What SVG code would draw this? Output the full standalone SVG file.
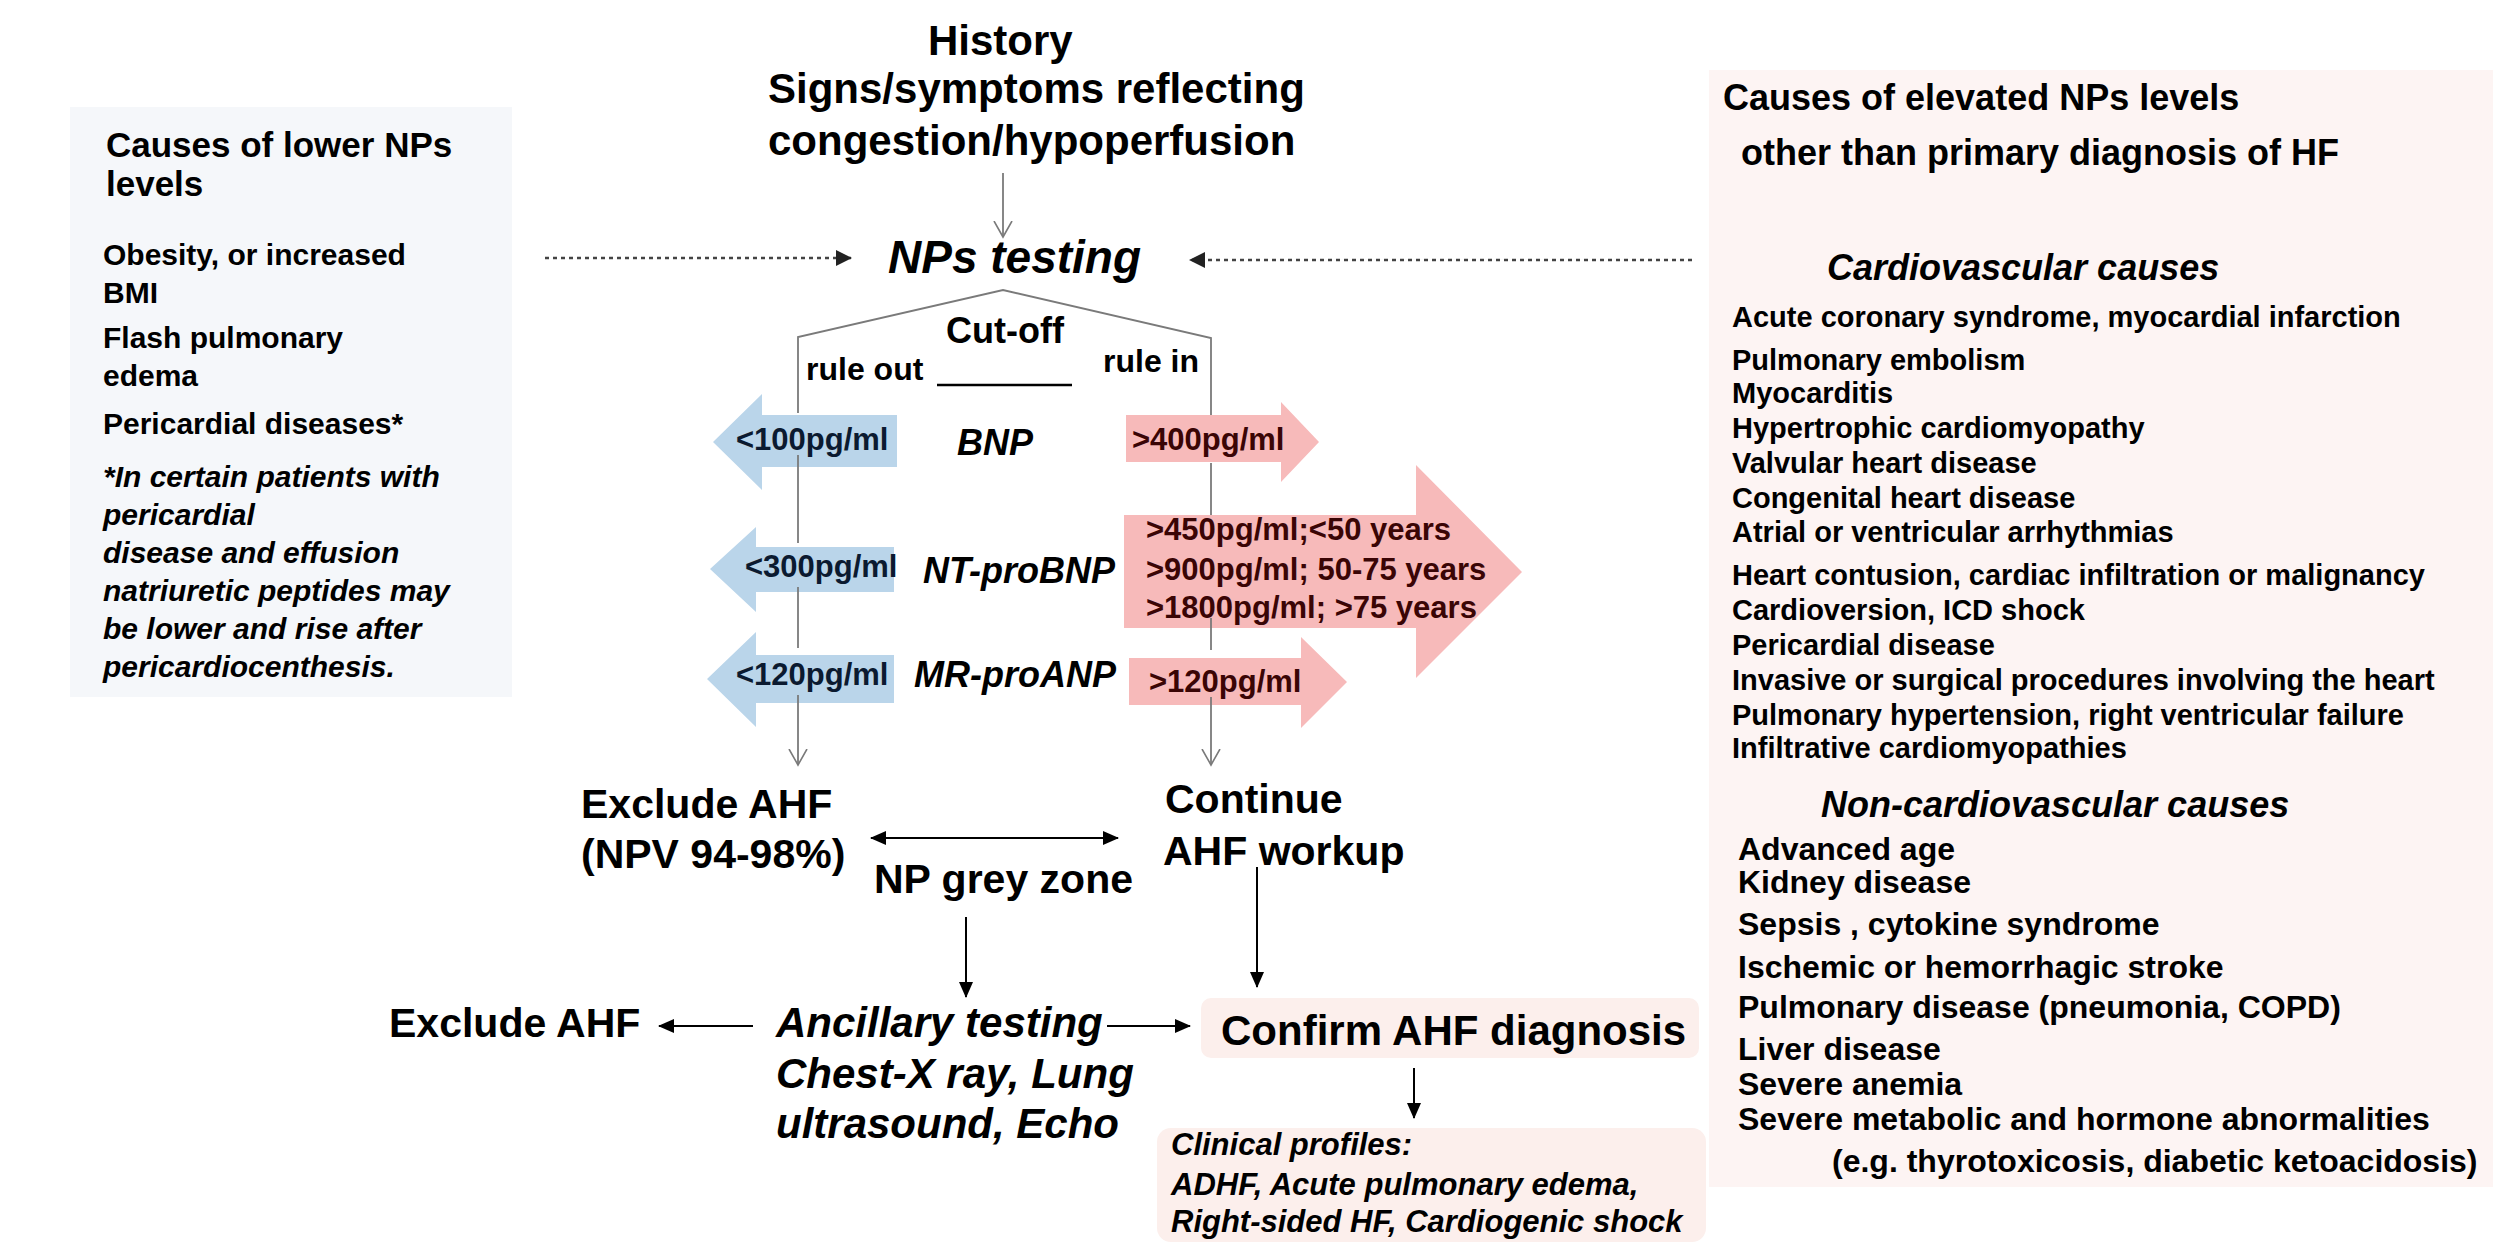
<svg xmlns="http://www.w3.org/2000/svg" width="2500" height="1249" viewBox="0 0 2500 1249">
<defs>
<style>
text{font-family:"Liberation Sans",Arial,sans-serif;font-weight:bold;fill:#000}
.i{font-style:italic}
.h42{font-size:42px}
.h41{font-size:41px}
.h36{font-size:36px}
.h35{font-size:35px}
.h32{font-size:32px}
.h31{font-size:31px}
.h30{font-size:30px}
.h29{font-size:29px}
.bt{fill:#0b1a30}
.pt{fill:#3a0505}
.blue{fill:#bad5ea}
.pink{fill:#f7baba}
.gl{stroke:#7a7a7a;stroke-width:1.8;fill:none}
.bl{stroke:#000;stroke-width:2;fill:none}
.dl{stroke:#444;stroke-width:2.5;stroke-dasharray:4 4;fill:none}
</style>
<marker id="ah" markerUnits="userSpaceOnUse" markerWidth="16" markerHeight="14" refX="15" refY="7" orient="auto-start-reverse"><path d="M0,0 L16,7 L0,14 z" fill="#000"/></marker>
<marker id="ahd" markerUnits="userSpaceOnUse" markerWidth="16" markerHeight="16" refX="15" refY="8" orient="auto"><path d="M0,0 L16,8 L0,16 z" fill="#222"/></marker>
<marker id="av" markerUnits="userSpaceOnUse" markerWidth="18" markerHeight="20" refX="16" refY="10" orient="auto"><path d="M0,1 L16,10 L0,19" fill="none" stroke="#7a7a7a" stroke-width="1.6"/></marker>
</defs>
<rect width="2500" height="1249" fill="#fff"/>

<g id="lower-box">
<rect x="70" y="107" width="442" height="590" fill="#f5f7fa"/>
<text class="h35" x="106" y="157">Causes of lower NPs</text>
<text class="h35" x="106" y="196">levels</text>
<text class="h30" x="103" y="265">Obesity, or increased</text>
<text class="h30" x="103" y="303">BMI</text>
<text class="h30" x="103" y="348">Flash pulmonary</text>
<text class="h30" x="103" y="386">edema</text>
<text class="h30" x="103" y="434">Pericardial diseases*</text>
<text class="h30 i" x="103" y="487">*In certain patients with</text>
<text class="h30 i" x="103" y="525">pericardial</text>
<text class="h30 i" x="103" y="563">disease and effusion</text>
<text class="h30 i" x="103" y="601">natriuretic peptides may</text>
<text class="h30 i" x="103" y="639">be lower and rise after</text>
<text class="h30 i" x="103" y="677">pericardiocenthesis.</text>
</g>

<g id="elevated-box">
<rect x="1709" y="70" width="784" height="1117" fill="#fdf4f3"/>
<text class="h36" x="1723" y="110">Causes of elevated NPs levels</text>
<text class="h36" x="1741" y="165">other than primary diagnosis of HF</text>
<text class="h36 i" x="1827" y="280">Cardiovascular causes</text>
<text class="h29" x="1732" y="327">Acute coronary syndrome, myocardial infarction</text>
<text class="h29" x="1732" y="370">Pulmonary embolism</text>
<text class="h29" x="1732" y="403">Myocarditis</text>
<text class="h29" x="1732" y="438">Hypertrophic cardiomyopathy</text>
<text class="h29" x="1732" y="473">Valvular heart disease</text>
<text class="h29" x="1732" y="508">Congenital heart disease</text>
<text class="h29" x="1732" y="542">Atrial or ventricular arrhythmias</text>
<text class="h29" x="1732" y="585">Heart contusion, cardiac infiltration or malignancy</text>
<text class="h29" x="1732" y="620">Cardioversion, ICD shock</text>
<text class="h29" x="1732" y="655">Pericardial disease</text>
<text class="h29" x="1732" y="690">Invasive or surgical procedures involving the heart</text>
<text class="h29" x="1732" y="725">Pulmonary hypertension, right ventricular failure</text>
<text class="h29" x="1732" y="758">Infiltrative cardiomyopathies</text>
<text class="h36 i" x="1821" y="817">Non-cardiovascular causes</text>
<text class="h32" x="1738" y="860">Advanced age</text>
<text class="h32" x="1738" y="893">Kidney disease</text>
<text class="h32" x="1738" y="935">Sepsis , cytokine syndrome</text>
<text class="h32" x="1738" y="978">Ischemic or hemorrhagic stroke</text>
<text class="h32" x="1738" y="1018">Pulmonary disease (pneumonia, COPD)</text>
<text class="h32" x="1738" y="1060">Liver disease</text>
<text class="h32" x="1738" y="1095">Severe anemia</text>
<text class="h32" x="1738" y="1130">Severe metabolic and hormone abnormalities</text>
<text class="h32" x="1832" y="1172">(e.g. thyrotoxicosis, diabetic ketoacidosis)</text>
</g>

<g id="history">
<text class="h42" x="928" y="55">History</text>
<text class="h42" x="768" y="103">Signs/symptoms reflecting</text>
<text class="h42" x="768" y="155">congestion/hypoperfusion</text>
</g>

<g id="np-testing">
<text class="i" style="font-size:46px" x="888" y="273">NPs testing</text>
</g>

<g id="cutoff">
<text class="h36" x="946" y="343">Cut-off</text>
<text class="h32" x="806" y="380">rule out</text>
<line x1="937" y1="385" x2="1072" y2="385" stroke="#000" stroke-width="2.5"/>
<text class="h32" x="1103" y="372">rule in</text>
</g>

<g id="rule-out-arrows">
<path class="blue" d="M713,442 L762,394 L762,415 L897,415 L897,467 L762,467 L762,490 Z"/>
<text class="h31 bt" x="736" y="450">&lt;100pg/ml</text>
<path class="blue" d="M710,569 L756,527 L756,547 L894,547 L894,592 L756,592 L756,612 Z"/>
<text class="h31 bt" x="745" y="577">&lt;300pg/ml</text>
<path class="blue" d="M707,679 L756,632 L756,655 L894,655 L894,703 L756,703 L756,727 Z"/>
<text class="h31 bt" x="736" y="685">&lt;120pg/ml</text>
</g>

<g id="markers">
<text class="h36 i" x="957" y="455">BNP</text>
<text class="h36 i" x="923" y="583">NT-proBNP</text>
<text class="h36 i" x="914" y="687">MR-proANP</text>
</g>

<g id="rule-in-arrows">
<path class="pink" d="M1126,415 L1281,415 L1281,402 L1319,442 L1281,482 L1281,462 L1126,462 Z"/>
<text class="h31 pt" x="1132" y="450">&gt;400pg/ml</text>
<path class="pink" d="M1124,515 L1416,515 L1416,465 L1522,572 L1416,678 L1416,628 L1124,628 Z"/>
<text class="h31 pt" x="1146" y="540">&gt;450pg/ml;&lt;50 years</text>
<text class="h31 pt" x="1146" y="580">&gt;900pg/ml; 50-75 years</text>
<text class="h31 pt" x="1146" y="618">&gt;1800pg/ml; &gt;75 years</text>
<path class="pink" d="M1129,658 L1301,658 L1301,637 L1347,682 L1301,728 L1301,705 L1129,705 Z"/>
<text class="h31 pt" x="1149" y="692">&gt;120pg/ml</text>
</g>

<g id="exclude-ahf">
<text class="h41" x="581" y="818">Exclude AHF</text>
<text class="h41" x="581" y="868">(NPV 94-98%)</text>
</g>
<g id="continue-workup">
<text class="h41" x="1165" y="813">Continue</text>
<text class="h41" x="1163" y="865">AHF workup</text>
</g>
<g id="grey-zone">
<text class="h41" x="874" y="893">NP grey zone</text>
</g>
<g id="exclude-ahf-2">
<text class="h41" x="389" y="1037">Exclude AHF</text>
</g>
<g id="ancillary">
<text class="h42 i" x="776" y="1037">Ancillary testing</text>
<text class="h42 i" x="776" y="1088">Chest-X ray, Lung</text>
<text class="h42 i" x="776" y="1138">ultrasound, Echo</text>
</g>
<g id="confirm">
<rect x="1201" y="998" width="498" height="60" rx="10" fill="#fcefec"/>
<text class="h42" x="1221" y="1045">Confirm AHF diagnosis</text>
</g>
<g id="clinical">
<rect x="1157" y="1128" width="549" height="114" rx="14" fill="#fcefec"/>
<text class="h31 i" x="1171" y="1155">Clinical profiles:</text>
<text class="h31 i" x="1171" y="1195">ADHF, Acute pulmonary edema,</text>
<text class="h31 i" x="1171" y="1232">Right-sided HF, Cardiogenic shock</text>
</g>

<g id="connectors">
<line class="gl" x1="1003" y1="173" x2="1003" y2="237" marker-end="url(#av)"/>
<line class="dl" x1="545" y1="258" x2="851" y2="258" marker-end="url(#ahd)"/>
<line class="dl" x1="1692" y1="260" x2="1190" y2="260" marker-end="url(#ahd)"/>
<polyline class="gl" points="798,413 798,337 1003,290 1211,338 1211,415"/>
<line class="gl" x1="798" y1="455" x2="798" y2="543"/>
<line class="gl" x1="798" y1="587" x2="798" y2="648"/>
<line class="gl" x1="798" y1="695" x2="798" y2="765" marker-end="url(#av)"/>
<line class="gl" x1="1211" y1="463" x2="1211" y2="515"/>
<line class="gl" x1="1211" y1="618" x2="1211" y2="650"/>
<line class="gl" x1="1211" y1="697" x2="1211" y2="765" marker-end="url(#av)"/>
<line class="bl" x1="871" y1="838" x2="1118" y2="838" marker-start="url(#ah)" marker-end="url(#ah)"/>
<line class="bl" x1="966" y1="917" x2="966" y2="997" marker-end="url(#ah)"/>
<line class="bl" x1="1257" y1="867" x2="1257" y2="987" marker-end="url(#ah)"/>
<line class="bl" x1="753" y1="1026" x2="659" y2="1026" marker-end="url(#ah)"/>
<line class="bl" x1="1107" y1="1026" x2="1190" y2="1026" marker-end="url(#ah)"/>
<line class="bl" x1="1414" y1="1068" x2="1414" y2="1118" marker-end="url(#ah)"/>
</g>
</svg>
